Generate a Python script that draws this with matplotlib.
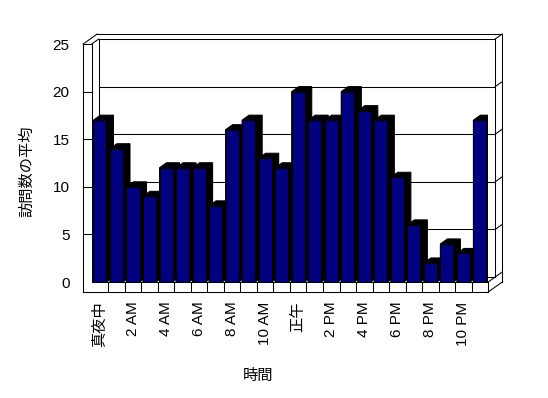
import matplotlib
matplotlib.use('Agg')
import matplotlib.pyplot as plt
from matplotlib.patches import Polygon
from matplotlib.lines import Line2D
from matplotlib.transforms import IdentityTransform

plt.rcParams['font.family'] = ['Liberation Sans', 'Noto Sans CJK JP']

# --- DATA ---
hours = list(range(24))
visits = [17, 14, 10, 9, 12, 12, 12, 8, 16, 17, 13, 12,
          20, 17, 17, 20, 18, 17, 11, 6, 2, 4, 3, 17]
tick_hours = [0, 2, 4, 6, 8, 10, 12, 14, 16, 18, 20, 22]
tick_labels = ['真夜中', '2 AM', '4 AM', '6 AM', '8 AM', '10 AM',
               '正午', '2 PM', '4 PM', '6 PM', '8 PM', '10 PM']
y_ticks = [0, 5, 10, 15, 20, 25]

# --- LAYOUT (pixels) ---
W, H = 548, 398
DX, DY = 14, 10        # full depth of the 3d box
WALL = 8.5             # side wall thickness
FLOOR = 10             # floor thickness
NAVY = '#000080'
LW = 0.75

fig = plt.figure(figsize=(W / 100, H / 100), dpi=100)
ax = fig.add_axes([91.7 / W, (H - 282) / H, 396.5 / W, 238 / H])
ax.set_xlim(0, len(hours))
ax.set_ylim(0, 25)
for s in ax.spines.values():
    s.set_visible(False)
ax.set_facecolor('none')


def px(x, y, depth=0.0, ox=0.0, oy=0.0):
    """data point -> display pixels, pushed back by a fraction of the depth"""
    a, b = ax.transData.transform((x, y))
    return a + DX * depth + ox, b + DY * depth + oy


def line(p, q, z=1):
    ax.add_line(Line2D([p[0], q[0]], [p[1], q[1]], color='black', lw=LW,
                       transform=IdentityTransform(), clip_on=False, zorder=z))


n = len(hours)

# back wall (inner face at half depth, outer at full depth)
for v in y_ticks:
    line(px(0, v, 0.5), px(n, v, 0.5))
    line(px(n, v, 0.5), px(n, v, 1.0))
line(px(0, 0, 0.5), px(0, 25, 0.5))
line(px(n, 0, 0.5), px(n, 25, 0.5))
line(px(0, 25, 1.0, ox=-WALL), px(n, 25, 1.0))
line(px(n, 0, 1.0, oy=-FLOOR), px(n, 25, 1.0))

# left wall
line(px(0, 0, 0, ox=-WALL, oy=-FLOOR), px(0, 25, 0, ox=-WALL), z=4)
line(px(0, 0), px(0, 25), z=4)
line(px(0, 25, 0, ox=-WALL), px(0, 25), z=4)
line(px(0, 25, 0, ox=-WALL), px(0, 25, 1.0, ox=-WALL), z=4)
line(px(0, 25), px(0, 25, 0.5), z=4)
for v in y_ticks[1:-1]:
    line(px(0, v, 0, ox=-WALL), px(0, v), z=4)

# floor
line(px(0, 0, 0, ox=-WALL, oy=-FLOOR), px(n, 0, 0, oy=-FLOOR), z=4)
line(px(0, 0), px(n, 0), z=4)
line(px(n, 0, 0, oy=-FLOOR), px(n, 0), z=4)
line(px(n, 0, 0, oy=-FLOOR), px(n, 0, 1.0, oy=-FLOOR), z=4)
line(px(n, 0), px(n, 0, 0.5), z=4)
for h in hours[1:]:
    line(px(h, 0, 0, oy=-FLOOR), px(h, 0), z=4)

# bars: black depth block first, navy front faces on top
bw = 0.79
for h, v in zip(hours, visits):
    x0, x1 = h + 0.5 - bw / 2, h + 0.5 + bw / 2
    pts = [px(x0, 0), px(x1, 0), px(x1, 0, 0.5), px(x1, v, 0.5),
           px(x0, v, 0.5), px(x0, v)]
    ax.add_patch(Polygon(pts, closed=True, facecolor='black', edgecolor='black',
                         lw=LW, transform=IdentityTransform(), zorder=2))
ax.bar([h + 0.5 for h in hours], visits, width=bw, color=NAVY,
       edgecolor='black', linewidth=LW, zorder=3)

# ticks and labels
ax.tick_params(axis='x', length=0, pad=14)
ax.tick_params(axis='y', length=0, pad=16)
ax.set_xticks([h + 0.5 for h in tick_hours])
ax.set_xticklabels(tick_labels, fontsize=11, rotation=90,
                   rotation_mode='default', ha='center', va='top')
ax.set_yticks(y_ticks)
ax.set_yticklabels([str(v) for v in y_ticks], fontsize=11)

fig.text(27 / W, 1 - 171 / H, '訪問数の平均', rotation=90, ha='center',
         va='center', fontsize=11)
fig.text(258 / W, 1 - 376 / H, '時間', ha='center', va='center', fontsize=11)

fig.savefig('out.png', dpi=100, facecolor='white')
